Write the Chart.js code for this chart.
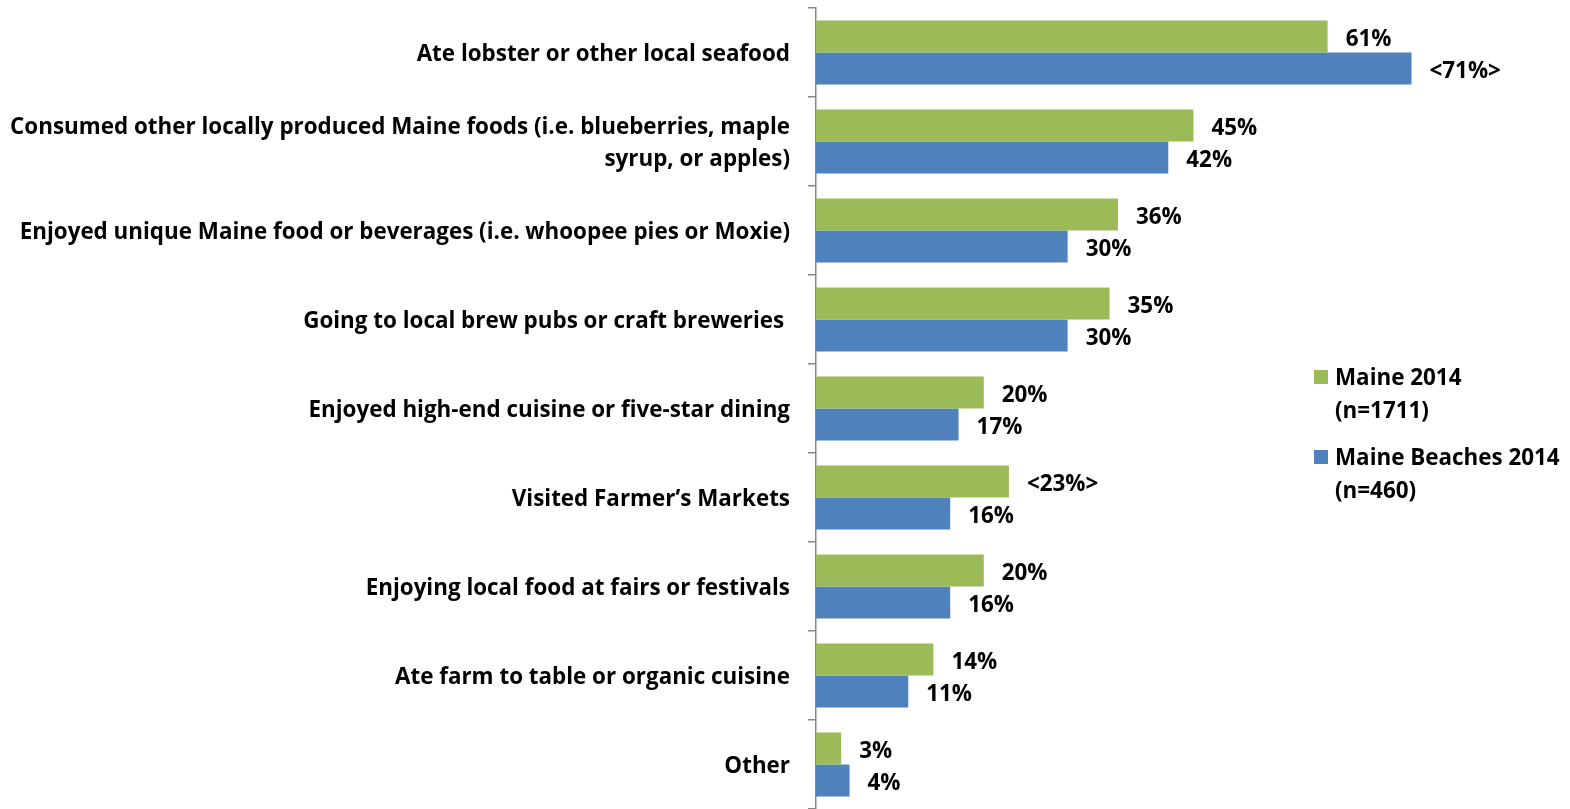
<!DOCTYPE html>
<html>
<head>
<meta charset="utf-8">
<title>Food activities, Maine vs Maine Beaches 2014</title>
<script src="https://cdn.jsdelivr.net/npm/chart.js@4/dist/chart.umd.min.js"></script>
<style>
  html, body { margin: 0; padding: 0; background: #fff; }
  #wrap { position: relative; width: 1570px; height: 809px; }
</style>
</head>
<body>
<div id="wrap"><canvas id="foodChart"></canvas></div>
<script>
// --- Data ---
const categories = [
  'Ate lobster or other local seafood',
  ['Consumed other locally produced Maine foods (i.e. blueberries, maple', 'syrup, or apples)'],
  'Enjoyed unique Maine food or beverages (i.e. whoopee pies or Moxie)',
  'Going to local brew pubs or craft breweries ',
  'Enjoyed high-end cuisine or five-star dining',
  'Visited Farmer\u2019s Markets',
  'Enjoying local food at fairs or festivals',
  'Ate farm to table or organic cuisine',
  'Other'
];
const maineValues   = [61, 45, 36, 35, 20, 23, 20, 14, 3];
const beachesValues = [71, 42, 30, 30, 17, 16, 16, 11, 4];
// indexes whose labels get the <..> significance marks
const maineMarked   = [5];
const beachesMarked = [0];
const seriesNames = [['Maine 2014', '(n=1711)'], ['Maine Beaches 2014', '(n=460)']];
const seriesColors = ['#9BBB59', '#4F81BD'];

const FONT = '"Open Sans", Calibri, Carlito, sans-serif';
const FONT_SIZE = 22.4;
const AXIS_GRAY = '#878787';

function pctLabel(v, i, marked) {
  return marked.includes(i) ? '<' + v + '%>' : v + '%';
}

// --- Value labels at the end of each bar ---
const valueLabels = {
  id: 'valueLabels',
  afterDatasetsDraw(chart) {
    const ctx = chart.ctx;
    const marks = [maineMarked, beachesMarked];
    ctx.save();
    ctx.font = 'bold ' + FONT_SIZE + 'px ' + FONT;
    ctx.fillStyle = '#000';
    ctx.textAlign = 'left';
    ctx.textBaseline = 'middle';
    chart.data.datasets.forEach((ds, d) => {
      chart.getDatasetMeta(d).data.forEach((bar, i) => {
        ctx.fillText(pctLabel(ds.data[i], i, marks[d]), bar.x + 18, bar.y + 3);
      });
    });
    ctx.restore();
  }
};

// --- Legend on the right, two lines per entry ---
const sideLegend = {
  id: 'sideLegend',
  afterDraw(chart) {
    const ctx = chart.ctx;
    const x = 1314, tops = [377, 457], lineGap = 33;
    ctx.save();
    ctx.font = 'bold ' + FONT_SIZE + 'px ' + FONT;
    ctx.textBaseline = 'middle';
    ctx.textAlign = 'left';
    chart.data.datasets.forEach((ds, d) => {
      ctx.fillStyle = ds.backgroundColor;
      ctx.fillRect(x, tops[d] - 7, 14, 14);
      ctx.fillStyle = '#000';
      seriesNames[d].forEach((line, k) => ctx.fillText(line, x + 21, tops[d] + k * lineGap + 2));
    });
    ctx.restore();
  }
};

new Chart(document.getElementById('foodChart'), {
  type: 'bar',
  data: {
    labels: categories,
    datasets: [
      { label: seriesNames[0].join(' '), data: maineValues, backgroundColor: seriesColors[0] },
      { label: seriesNames[1].join(' '), data: beachesValues, backgroundColor: seriesColors[1] }
    ]
  },
  options: {
    indexAxis: 'y',
    responsive: true,
    maintainAspectRatio: false,
    animation: false,
    categoryPercentage: 0.72,
    barPercentage: 1,
    layout: { padding: { top: 8, right: 83, bottom: 0, left: 0 } },
    plugins: {
      legend: { display: false },
      tooltip: { enabled: false }
    },
    scales: {
      x: {
        display: false,
        min: 0,
        max: 80
      },
      y: {
        afterFit(scale) {
          // fixed label column; no extra room for the first/last label
          scale.width = 816;
          scale.paddingTop = 0;
          scale.paddingBottom = 0;
        },
        border: { display: true, color: AXIS_GRAY, width: 1.5 },
        grid: {
          display: true,
          drawOnChartArea: false,
          drawTicks: true,
          tickLength: 8,
          color: AXIS_GRAY,
          lineWidth: 1.5
        },
        ticks: {
          padding: 18,
          labelOffset: 2,
          color: '#000',
          font: { family: FONT, size: FONT_SIZE, weight: 'bold', lineHeight: 1.43 }
        }
      }
    }
  },
  plugins: [valueLabels, sideLegend]
});
</script>
</body>
</html>
